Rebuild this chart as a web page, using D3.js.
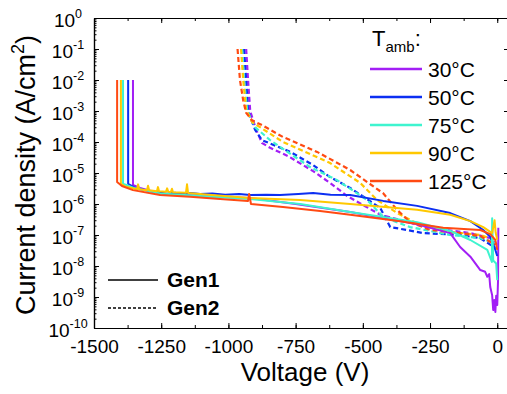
<!DOCTYPE html>
<html>
<head>
<meta charset="utf-8">
<script src="https://cdn.jsdelivr.net/npm/d3@7"></script>
<style>
  body { margin: 0; background: #fff; }
  text { font-family: Arial, "Liberation Sans", sans-serif; }
</style>
</head>
<body>
<div id="chart"></div>
<script>
/* CONSTANTS */
const width = 507, height = 394;
const margin = { top: 18, left: 94, bottom: 66 };

// temperature series (legend order)
const temps = ["30°C", "50°C", "75°C", "90°C", "125°C"];
const colors = ["#a21ff5", "#0c2ff2", "#3ef4cf", "#ffc800", "#ff4a12"];

// x / y ticks
const xTicks = [-1500, -1250, -1000, -750, -500, -250, 0];
const yExps = [0, -1, -2, -3, -4, -5, -6, -7, -8, -9, -10];

// Gen1 (solid) : [voltage V, current density A/cm2]
const gen1_30 = [[-1355,1e-2],[-1355,4.1e-6],[-1329,3.3e-6],[-1254,2.2e-6],[-1100,1.8e-6],[-919,1.55e-6],[-750,1.0e-6],[-547,5.5e-7],[-298,2.2e-7],[-175,1.15e-7],[-138,4.1e-8],[-100,2e-8],[-63,7.4e-9],[-45,6.5e-9],[-37,4.5e-9],[-30,5.5e-9],[-26,2.1e-9],[-19,1.15e-9],[-15,3.8e-10],[-11,8e-10],[-7,3.3e-10],[-4,1.1e-9],[0,5.5e-10],[3,3.5e-9],[4,1.7e-7]];
const gen1_50 = [[-1373,1e-2],[-1373,4.5e-6],[-1347,3.3e-6],[-1292,2.6e-6],[-1250,2.3e-6],[-1230,2.15e-6],[-1199,2.3e-6],[-1170,2.1e-6],[-1140,2.25e-6],[-1105,2.1e-6],[-1060,2.2e-6],[-1012,2.0e-6],[-960,2.1e-6],[-919,1.95e-6],[-860,2.0e-6],[-808,1.95e-6],[-740,2.1e-6],[-685,2.25e-6],[-620,2.0e-6],[-547,1.95e-6],[-424,1.26e-6],[-298,8.7e-7],[-175,5.1e-7],[-100,2.8e-7],[-52,1.45e-7],[-26,8.7e-8],[-7,3.3e-8],[0,2.1e-8]];
const gen1_75 = [[-1392,1e-2],[-1392,4.5e-6],[-1347,3.2e-6],[-1254,2.2e-6],[-1105,1.8e-6],[-919,1.45e-6],[-733,1.0e-6],[-547,5.5e-7],[-298,2.6e-7],[-175,1.35e-7],[-100,6.9e-8],[-37,3.3e-8],[-20,1.35e-8],[-19,3.5e-7],[-15,1.5e-8],[-4,1.2e-8],[0,3.5e-9]];
const gen1_90 = [[-1400,1e-2],[-1400,4.5e-6],[-1381,3.6e-6],[-1340,3.0e-6],[-1336,4.3e-6],[-1332,3.0e-6],[-1303,2.8e-6],[-1299,3.9e-6],[-1295,2.8e-6],[-1266,2.6e-6],[-1262,3.5e-6],[-1258,2.6e-6],[-1232,2.5e-6],[-1228,3.2e-6],[-1224,2.5e-6],[-1214,2.45e-6],[-1210,3.1e-6],[-1206,2.4e-6],[-1158,2.3e-6],[-1154,4.3e-6],[-1150,2.25e-6],[-1050,1.9e-6],[-919,1.55e-6],[-733,1.35e-6],[-547,1.0e-6],[-298,6.5e-7],[-175,4.5e-7],[-100,2.8e-7],[-52,1.8e-7],[-19,1.15e-7],[-10,3e-7],[-6,1.2e-7],[0,7e-8]];
const gen1_125 = [[-1414,1e-2],[-1414,5.1e-6],[-1396,3.8e-6],[-1355,2.8e-6],[-1254,1.95e-6],[-1143,1.7e-6],[-1031,1.45e-6],[-927,1.26e-6],[-923,2.1e-6],[-916,1.0e-6],[-797,8e-7],[-659,5.9e-7],[-547,4.5e-7],[-361,2.8e-7],[-201,1.7e-7],[-63,1.45e-7],[-26,1.07e-7],[-7,6.9e-8],[0,3.3e-8]];

// Gen2 (dashed)
const gen2_30 = [[-934,1e-1],[-927,1e-2],[-919,1e-3],[-897,2.5e-4],[-875,9.3e-5],[-845,6.5e-5],[-778,3.5e-5],[-685,1.15e-5],[-622,4.8e-6],[-558,1.8e-6],[-435,4.5e-7],[-249,1.7e-7],[-100,1.15e-7],[-26,7.9e-8],[0,4.8e-8]];
const gen2_50 = [[-942,1e-1],[-934,1e-2],[-927,1e-3],[-901,2.5e-4],[-875,1.15e-4],[-770,4.8e-5],[-685,1.8e-5],[-622,7.4e-6],[-547,3.3e-6],[-435,7.4e-7],[-398,1.8e-7],[-335,1.45e-7],[-275,1.15e-7],[-138,1e-7],[-63,7.9e-8],[-7,3.8e-8]];
const gen2_75 = [[-949,1e-1],[-942,1e-2],[-930,1e-3],[-901,3e-4],[-845,1.15e-4],[-696,1.55e-5],[-596,5.9e-6],[-484,1.35e-6],[-424,3.8e-7],[-324,1.8e-7],[-175,1e-7],[-63,7.9e-8],[-7,5.5e-8]];
const gen2_90 = [[-953,1e-1],[-945,1e-2],[-934,1.1e-3],[-912,4.4e-4],[-797,1e-4],[-622,2.1e-5],[-510,4.8e-6],[-447,1.35e-6],[-372,5.1e-7],[-287,2.1e-7],[-175,1.26e-7],[-63,1e-7],[-7,6.9e-8]];
const gen2_125 = [[-966,1e-1],[-957,1e-2],[-945,2.2e-3],[-934,8.7e-4],[-912,5e-4],[-875,3.5e-4],[-797,1.45e-4],[-670,4.8e-5],[-547,1.25e-5],[-424,2.2e-6],[-372,6.4e-7],[-324,2.6e-7],[-249,1.45e-7],[-138,1.15e-7],[-63,9.3e-8],[-7,4.8e-8]];

const gen1 = [gen1_30, gen1_50, gen1_75, gen1_90, gen1_125];
const gen2 = [gen2_30, gen2_50, gen2_75, gen2_90, gen2_125];

/* SCALES */
const xScale = d3.scaleLinear().domain([-1500, 40]).range([margin.left, 508]);
const yScale = d3.scaleLog().domain([1e-10, 1]).range([height - margin.bottom, margin.top]);

const svg = d3.select("#chart").append("svg")
  .attr("width", width)
  .attr("height", height);

const x0 = margin.left, x1 = 508, y0 = height - margin.bottom, y1 = margin.top;

// clip so lines stay in the frame
svg.append("clipPath").attr("id", "clip")
  .append("rect").attr("x", x0).attr("y", y1).attr("width", x1 - x0).attr("height", y0 - y1);

const line = d3.line().x(d => xScale(d[0])).y(d => yScale(d[1]));

const plot = svg.append("g").attr("clip-path", "url(#clip)");

// Gen2 dashed
plot.selectAll(".g2")
  .data(gen2)
  .join("path")
  .attr("class", "g2")
  .attr("d", line)
  .attr("fill", "none")
  .attr("stroke", (d, i) => colors[i])
  .attr("stroke-width", 2.2)
  .attr("stroke-dasharray", "5,3");

// Gen1 solid
plot.selectAll(".g1")
  .data(gen1)
  .join("path")
  .attr("class", "g1")
  .attr("d", line)
  .attr("fill", "none")
  .attr("stroke", (d, i) => colors[i])
  .attr("stroke-width", 2)
  .attr("stroke-linejoin", "round");

/* AXES */
const minorX = d3.range(-1500, 41, 125);
const minorY = [];
yExps.forEach(e => { if (e > -10) for (let k = 2; k < 10; k++) minorY.push(k * Math.pow(10, e - 1)); });

svg.append("g").attr("transform", `translate(0,${y0})`)
  .call(d3.axisBottom(xScale).tickValues(minorX).tickSizeInner(-3).tickSizeOuter(0).tickFormat(""));
const bottomMaj = svg.append("g").attr("transform", `translate(0,${y0})`)
  .call(d3.axisBottom(xScale).tickValues(xTicks).tickSizeInner(-5).tickSizeOuter(0).tickPadding(12)
    .tickFormat(d => String(d)));
bottomMaj.selectAll("text").attr("font-size", 19).attr("fill", "#000").attr("dy", "0.71em")
  .attr("font-family", "Arial, 'Liberation Sans', sans-serif");

svg.append("g").attr("transform", `translate(0,${y1})`)
  .call(d3.axisTop(xScale).tickValues(minorX).tickSizeInner(-3).tickSizeOuter(0).tickFormat(""));
svg.append("g").attr("transform", `translate(0,${y1})`)
  .call(d3.axisTop(xScale).tickValues(xTicks).tickSizeInner(-5).tickSizeOuter(0).tickFormat(""));

svg.append("g").attr("transform", `translate(${x0},0)`)
  .call(d3.axisLeft(yScale).tickValues(minorY).tickSizeInner(-2.5).tickSizeOuter(0).tickFormat(""));
svg.append("g").attr("transform", `translate(${x0},0)`)
  .call(d3.axisLeft(yScale).tickValues(yExps.map(e => Math.pow(10, e))).tickSizeInner(-5).tickSizeOuter(0).tickFormat(""));

svg.append("g").attr("transform", `translate(${x1},0)`)
  .call(d3.axisRight(yScale).tickValues(yExps.map(e => Math.pow(10, e))).tickSizeInner(-4).tickSizeOuter(0).tickFormat(""));

svg.selectAll(".domain").attr("stroke", "#000").attr("stroke-width", 1.2);
svg.selectAll(".tick line").attr("stroke", "#000");

// y tick labels 10^n
const ylab = svg.append("g");
yExps.forEach(e => {
  const t = ylab.append("text")
    .attr("x", 68)
    .attr("y", yScale(Math.pow(10, e)) + 9)
    .attr("text-anchor", "middle")
    .attr("font-size", 19);
  t.append("tspan").text("10");
  t.append("tspan").attr("font-size", 12.5).attr("dy", -9).text(e);
});

// axis titles
svg.append("text")
  .attr("x", 305).attr("y", 381)
  .attr("text-anchor", "middle")
  .attr("font-size", 26)
  .text("Voltage (V)");

const yt = svg.append("text")
  .attr("transform", "translate(35,175) rotate(-90)")
  .attr("text-anchor", "middle")
  .attr("font-size", 27);
yt.append("tspan").text("Current density (A/cm");
yt.append("tspan").attr("font-size", 18).attr("dy", -11).text("2");
yt.append("tspan").attr("dy", 11).text(")");

/* LEGENDS */
const tl = svg.append("text").attr("x", 372).attr("y", 46).attr("font-size", 22);
tl.append("tspan").text("T");
tl.append("tspan").attr("font-size", 15).attr("dy", 6).text("amb");
tl.append("tspan").attr("dy", -6).text(":");

const leg = svg.append("g");
temps.forEach((t, i) => {
  const yy = 69 + i * 28;
  leg.append("line").attr("x1", 370).attr("x2", 422).attr("y1", yy).attr("y2", yy)
    .attr("stroke", colors[i]).attr("stroke-width", 2.5);
  leg.append("text").attr("x", 428).attr("y", yy + 8).attr("font-size", 21).text(t);
});

const gens = [["Gen1", null, 280], ["Gen2", "3,2", 308]];
gens.forEach(g => {
  leg.append("line").attr("x1", 108).attr("x2", 158).attr("y1", g[2]).attr("y2", g[2])
    .attr("stroke", "#000").attr("stroke-width", 1.5)
    .attr("stroke-dasharray", g[1]);
  leg.append("text").attr("x", 167).attr("y", g[2] + 7).attr("font-size", 21)
    .attr("font-weight", "bold").text(g[0]);
});
</script>
</body>
</html>
